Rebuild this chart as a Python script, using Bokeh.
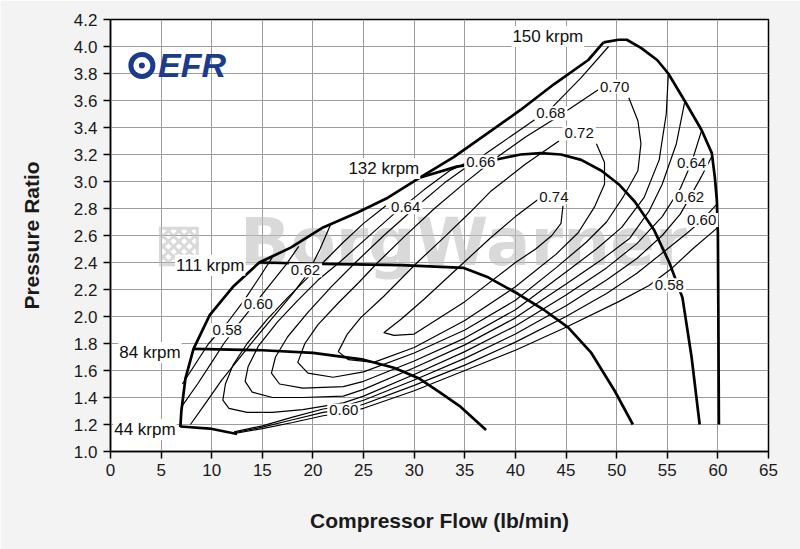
from bokeh.plotting import figure
from bokeh.models import Range1d, FixedTicker, PrintfTickFormatter
from bokeh.core.properties import value
from bokeh.embed import file_html
from bokeh.resources import INLINE

FONT = "Liberation Sans"

# ---------------- data (flow lb/min, pressure ratio) ----------------
surge_line = [(6.9, 1.18), (7.0, 1.30), (7.4, 1.54), (8.2, 1.76), (9.8, 2.01), (12.1, 2.22),
              (14.7, 2.40), (17.8, 2.51), (21.0, 2.66), (24.4, 2.77), (27.4, 2.88), (30.6, 3.03),
              (33.9, 3.18), (37.3, 3.36), (40.5, 3.53), (43.8, 3.72), (47.2, 3.90), (48.7, 4.03)]
speed_44 = [(6.9, 1.185), (9.8, 1.17), (12.5, 1.13)]
speed_84 = [(8.2, 1.76), (15.0, 1.75), (20.0, 1.73), (25.0, 1.68), (28.0, 1.62), (30.5, 1.54),
            (32.5, 1.44), (34.6, 1.33), (37.1, 1.16)]
speed_111 = [(14.7, 2.40), (21.0, 2.39), (28.7, 2.38), (34.9, 2.36), (37.3, 2.29), (40.2, 2.17),
             (42.8, 2.05), (45.2, 1.92), (47.5, 1.73), (49.8, 1.45), (51.6, 1.20)]
speed_132 = [(30.6, 3.03), (34.2, 3.11), (36.0, 3.13), (38.6, 3.17), (40.5, 3.20), (42.5, 3.21),
             (44.5, 3.20), (46.5, 3.16), (48.5, 3.08), (50.2, 2.98), (51.8, 2.85), (53.7, 2.64),
             (55.2, 2.40), (56.5, 2.14), (57.4, 1.70), (58.2, 1.20)]
speed_150 = [(48.7, 4.03), (50.2, 4.05), (51.0, 4.05), (52.4, 3.99), (54.0, 3.90), (55.1, 3.80),
             (56.7, 3.60), (58.4, 3.38), (59.4, 3.21), (59.7, 3.03), (59.9, 2.86), (60.0, 2.62),
             (60.05, 1.97), (60.1, 1.20)]
speed_names = ["150 krpm", "132 krpm", "111 krpm", "84 krpm", "44 krpm"]
speed_label_flow = [43.2, 27.0, 9.85, 3.9, 3.4]
speed_label_pr = [4.075, 3.096, 2.38, 1.734, 1.163]

# efficiency islands (each a list of polylines)
eff_058 = [
    [(7.1, 1.50), (8.4, 1.65), (9.7, 1.80), (11.5, 1.95), (13.2, 2.12), (14.8, 2.30), (16.0, 2.44)],
    [(12.4, 1.135), (15.0, 1.17), (18.0, 1.215), (21.0, 1.265), (23.0, 1.285), (25.0, 1.32),
     (30.0, 1.45), (35.0, 1.60), (40.0, 1.75), (45.0, 1.92), (50.2, 2.11), (53.2, 2.23),
     (55.5, 2.36), (57.5, 2.50), (60.0, 2.66)],
]
eff_060 = [
    [(7.1, 1.34), (8.6, 1.50), (10.0, 1.66), (11.2, 1.80), (12.6, 1.94), (14.2, 2.09),
     (15.8, 2.24), (17.3, 2.38), (18.6, 2.52)],
    [(12.3, 1.14), (15.0, 1.18), (18.0, 1.235), (21.0, 1.29), (23.0, 1.31), (25.0, 1.35),
     (30.0, 1.49), (35.0, 1.64), (40.0, 1.81), (45.0, 2.00), (49.0, 2.17), (52.0, 2.32),
     (55.0, 2.50), (57.0, 2.62), (58.4, 2.71), (60.0, 2.84)],
]
eff_062 = [
    [(7.9, 1.20), (9.5, 1.37), (11.0, 1.53), (12.5, 1.67), (14.0, 1.81), (16.0, 1.99),
     (18.0, 2.17), (19.5, 2.32), (20.7, 2.50), (21.8, 2.69)],
    [(12.2, 1.145), (15.0, 1.19), (18.0, 1.255), (21.0, 1.315), (23.0, 1.335), (25.0, 1.38),
     (30.0, 1.53), (35.0, 1.69), (40.0, 1.87), (45.0, 2.08), (49.0, 2.27), (52.0, 2.43),
     (54.5, 2.60), (56.3, 2.76), (57.2, 2.88), (58.4, 3.04), (59.5, 3.20)],
]
eff_064 = [
    [(27.2, 2.82), (25.0, 2.69), (23.0, 2.55), (21.0, 2.40), (19.5, 2.29), (17.5, 2.14),
     (15.5, 1.98), (13.5, 1.80), (12.1, 1.64), (11.35, 1.50), (11.1, 1.38), (11.7, 1.32),
     (13.5, 1.29), (16.0, 1.29), (19.0, 1.31), (23.0, 1.36), (25.0, 1.41), (30.0, 1.57),
     (35.0, 1.74), (40.0, 1.93), (45.0, 2.16), (49.0, 2.36), (52.0, 2.54), (54.5, 2.74),
     (56.3, 2.95), (57.4, 3.14), (58.4, 3.38)],
]
eff_066 = [
    [(35.2, 3.14), (33.5, 3.08), (31.0, 2.94), (28.0, 2.76), (25.0, 2.56), (22.6, 2.40),
     (20.5, 2.27), (18.5, 2.12), (16.5, 1.96), (14.6, 1.78), (13.6, 1.63), (13.3, 1.52),
     (14.0, 1.44), (16.0, 1.40), (19.0, 1.40), (23.0, 1.41), (25.0, 1.46), (30.0, 1.62),
     (35.0, 1.79), (40.0, 1.99), (45.0, 2.24), (48.5, 2.42), (51.3, 2.58), (53.2, 2.78),
     (54.5, 2.98), (55.9, 3.28), (56.7, 3.58)],
]
eff_068 = [
    [(49.2, 4.00), (46.5, 3.77), (43.5, 3.54), (40.8, 3.40), (38.3, 3.27), (35.8, 3.14),
     (33.0, 2.99), (30.0, 2.80), (27.0, 2.60), (24.2, 2.40), (21.8, 2.22), (19.5, 2.03),
     (17.5, 1.85), (16.3, 1.70), (15.9, 1.58), (16.7, 1.50), (19.0, 1.47), (23.0, 1.48),
     (25.0, 1.52), (30.0, 1.67), (35.0, 1.84), (40.0, 2.05), (45.0, 2.33), (48.0, 2.50),
     (50.5, 2.66), (52.7, 2.88), (54.2, 3.16), (54.9, 3.50), (55.1, 3.79)],
]
eff_070 = [
    [(48.4, 3.69), (46.0, 3.57), (44.0, 3.47), (41.0, 3.33), (38.0, 3.17), (35.0, 2.99),
     (32.0, 2.80), (29.0, 2.59), (26.4, 2.40), (24.5, 2.25), (22.5, 2.10), (20.5, 1.94),
     (19.2, 1.80), (18.5, 1.66), (19.5, 1.58), (22.0, 1.55), (25.0, 1.59), (30.0, 1.73),
     (35.0, 1.90), (40.0, 2.12), (44.0, 2.36), (47.0, 2.55), (49.0, 2.70), (50.6, 2.88),
     (52.1, 3.08), (52.4, 3.28), (52.1, 3.45), (51.2, 3.62)],
]
eff_072 = [
    [(44.3, 3.30), (41.0, 3.13), (37.6, 2.93), (35.5, 2.77), (33.0, 2.59), (30.3, 2.40),
     (27.0, 2.15), (24.7, 1.99), (23.4, 1.87), (22.5, 1.74), (23.5, 1.68), (26.0, 1.66),
     (30.0, 1.77), (35.0, 1.97), (40.0, 2.22), (44.0, 2.46), (46.2, 2.62), (47.8, 2.81),
     (48.8, 2.98), (48.8, 3.14), (48.0, 3.28)],
]
eff_074 = [
    [(42.3, 2.87), (40.0, 2.74), (37.5, 2.58), (34.9, 2.40), (31.0, 2.13), (28.7, 1.98),
     (27.0, 1.88), (28.0, 1.86), (30.0, 1.87), (35.0, 2.11), (40.0, 2.40), (42.0, 2.50),
     (43.6, 2.60), (44.5, 2.69), (44.7, 2.82)],
]
eff_text = ["0.58", "0.60", "0.62", "0.64", "0.66", "0.68", "0.70", "0.72", "0.74",
            "0.64", "0.62", "0.60", "0.58", "0.60"]
eff_label_flow = [11.53, 14.6, 19.26, 29.16, 36.58, 43.5, 49.8, 46.3, 43.8,
                  57.4, 57.2, 58.4, 55.2, 23.05]
eff_label_pr = [1.898, 2.09, 2.343, 2.81, 3.146, 3.505, 3.703, 3.357, 2.886,
                3.134, 2.886, 2.714, 2.231, 1.304]

x_ticks = list(range(0, 66, 5))
y_ticks = [1.0, 1.2, 1.4, 1.6, 1.8, 2.0, 2.2, 2.4, 2.6, 2.8, 3.0, 3.2, 3.4, 3.6, 3.8, 4.0, 4.2]

# ---------------- figure ----------------
p = figure(width=800, height=549, x_range=Range1d(0, 65), y_range=Range1d(1.0, 4.2),
           output_backend="svg", toolbar_location=None,
           min_border_left=110, min_border_right=32, min_border_top=19, min_border_bottom=98)
p.background_fill_color = "white"
p.border_fill_color = "#f3f3f3"
p.outline_line_color = "black"
p.outline_line_width = 1.5

p.xaxis.ticker = FixedTicker(ticks=x_ticks)
p.yaxis.ticker = FixedTicker(ticks=y_ticks)
p.yaxis.formatter = PrintfTickFormatter(format="%.1f")
for ax in (p.xaxis[0], p.yaxis[0]):
    ax.major_tick_in = 0
    ax.major_tick_out = 7
    ax.minor_tick_line_color = None
    ax.axis_line_color = "black"
    ax.axis_line_width = 1.5
    ax.major_tick_line_color = "black"
    ax.major_tick_line_width = 1.5
    ax.major_label_text_font = FONT
    ax.major_label_text_font_size = "17px"
    ax.major_label_text_color = "#1a1a1a"
    ax.axis_label_text_font = FONT
    ax.axis_label_text_font_size = "21px"
    ax.axis_label_text_font_style = "bold"
    ax.axis_label_text_color = "#1a1a1a"
p.xaxis.axis_label = "Compressor Flow (lb/min)"
p.yaxis.axis_label = "Pressure Ratio"
p.xaxis.axis_label_standoff = 30
p.yaxis.axis_label_standoff = 28
p.xaxis.major_label_standoff = 5
p.yaxis.major_label_standoff = 6
p.grid.grid_line_color = "#9c9c9c"
p.grid.grid_line_width = 1

# watermark and logo
p.text(x=[4.3], y=[2.55], text=["▩"], text_font=value("DejaVu Sans"),
       text_font_size="52px", text_color="#bfbfbf", text_alpha=0.6,
       text_align="left", text_baseline="middle")
p.text(x=[12.8], y=[2.55], text=["BorgWarner"], text_font=value("DejaVu Sans"),
       text_font_style="bold", text_font_size="66px", text_color="#bfbfbf", text_alpha=0.6,
       text_align="left", text_baseline="middle")
p.scatter(x=[3.1], y=[3.86], marker="circle", size=22, fill_color="white",
          line_color="#1c3a8e", line_width=5)
p.scatter(x=[3.1], y=[3.86], marker="circle", size=6, fill_color="#1c3a8e", line_color=None)
p.text(x=[4.7], y=[3.86], text=["EFR"], text_font=value(FONT), text_font_style="bold italic",
       text_font_size="34px", text_color="#1c3a8e", text_align="left", text_baseline="middle")

# efficiency contours
for island in (eff_058, eff_060, eff_062, eff_064, eff_066, eff_068, eff_070, eff_072, eff_074):
    for seg in island:
        p.line([q[0] for q in seg], [q[1] for q in seg], line_color="black", line_width=1.2)

# surge and speed lines
for seg in (surge_line, speed_44, speed_84, speed_111, speed_132, speed_150):
    p.line([q[0] for q in seg], [q[1] for q in seg], line_color="black", line_width=2.7,
           line_join="round")

# labels
p.text(x=eff_label_flow, y=eff_label_pr, text=eff_text, text_font=value(FONT),
       text_font_size="15px", text_color="#111111", text_align="center", text_baseline="middle",
       background_fill_color="white", padding=2)
p.text(x=speed_label_flow, y=speed_label_pr, text=speed_names, text_font=value(FONT),
       text_font_size="17px", text_color="#111111", text_align="center", text_baseline="middle",
       background_fill_color="white", padding=1)

open("out.html", "w").write(file_html(p, INLINE))
